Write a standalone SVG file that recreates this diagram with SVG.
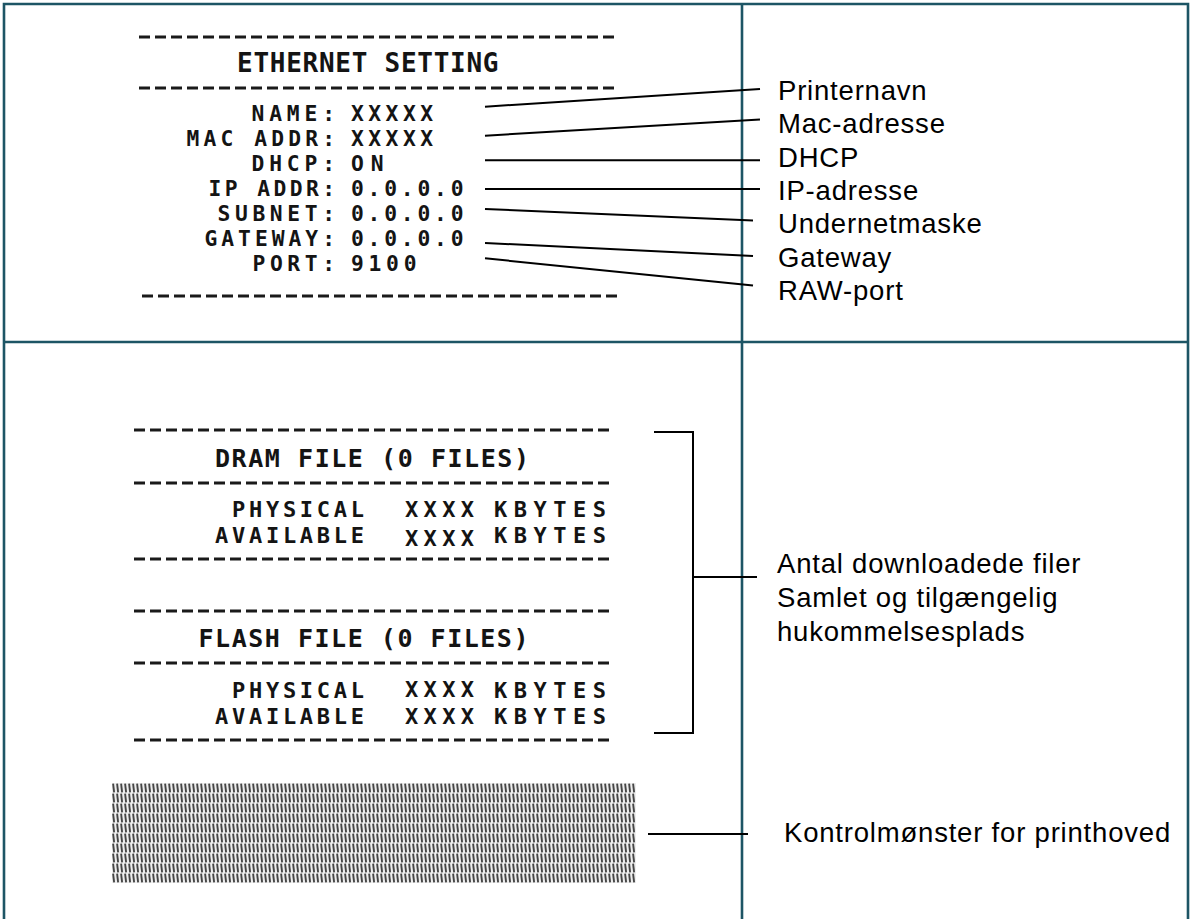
<svg xmlns="http://www.w3.org/2000/svg" width="1192" height="919" viewBox="0 0 1192 919">
<defs>
<style>
.frame{stroke:#1d5565;stroke-width:2.6;fill:none}
.pr{font-family:'DejaVu Sans Mono','Liberation Mono',monospace;font-weight:bold;fill:#141414;font-size:21.3px}
.pb{font-size:22px}
.ttl{font-size:26px}
.dash{stroke:#1a1a1a;stroke-width:3;stroke-dasharray:11 5;fill:none}
.lbl{font-family:'Liberation Sans',Arial,sans-serif;font-size:27.5px;letter-spacing:0.8px;fill:#000}
.ld{stroke:#000;stroke-width:2;fill:none}
</style>
<pattern id="hatch" x="112" y="783" width="4" height="10" patternUnits="userSpaceOnUse">
<rect width="4" height="10" fill="#eeeeee"/>
<line x1="1.1" y1="0.6" x2="2.1" y2="9.4" stroke="#454545" stroke-width="1.9"/>
</pattern>
</defs>
<rect width="1192" height="919" fill="#fff"/>
<g id="frame">
<path class="frame" d="M4,919 V4 H1188 V919"/>
<line class="frame" x1="4" y1="342" x2="1188" y2="342"/>
<line class="frame" x1="742" y1="4" x2="742" y2="919"/>
</g>
<g id="ethernet-printout">
<line class="dash" x1="139" y1="37" x2="614" y2="37"/>
<text class="pr ttl" x="237" y="71.7" textLength="261.5" lengthAdjust="spacing">ETHERNET SETTING</text>
<line class="dash" x1="139" y1="88" x2="614" y2="88"/>
<text class="pr" x="251.5" y="121" textLength="83.5" lengthAdjust="spacing">NAME:</text>
<text class="pr" x="186.5" y="146" textLength="148.5" lengthAdjust="spacing">MAC ADDR:</text>
<text class="pr" x="251.5" y="171" textLength="83.5" lengthAdjust="spacing">DHCP:</text>
<text class="pr" x="208.5" y="196" textLength="126.5" lengthAdjust="spacing">IP ADDR:</text>
<text class="pr" x="217.5" y="221" textLength="117.5" lengthAdjust="spacing">SUBNET:</text>
<text class="pr" x="204.5" y="246" textLength="130.5" lengthAdjust="spacing">GATEWAY:</text>
<text class="pr" x="252.5" y="271" textLength="82.5" lengthAdjust="spacing">PORT:</text>
<text class="pr" x="351" y="121" textLength="82" lengthAdjust="spacing">XXXXX</text>
<text class="pr" x="351" y="146" textLength="82" lengthAdjust="spacing">XXXXX</text>
<text class="pr" x="351" y="171" textLength="32.5" lengthAdjust="spacing">ON</text>
<text class="pr" x="351" y="196" textLength="112.5" lengthAdjust="spacing">0.0.0.0</text>
<text class="pr" x="351" y="221" textLength="112.5" lengthAdjust="spacing">0.0.0.0</text>
<text class="pr" x="351" y="246" textLength="112.5" lengthAdjust="spacing">0.0.0.0</text>
<text class="pr" x="351" y="271" textLength="65.5" lengthAdjust="spacing">9100</text>
<line class="dash" x1="142" y1="296" x2="617" y2="296"/>
</g>
<g id="file-printout">
<line class="dash" x1="134" y1="430" x2="609" y2="430"/>
<text class="pr" style="font-size:25px" x="215" y="466.7" textLength="314" lengthAdjust="spacing">DRAM FILE (0 FILES)</text>
<line class="dash" x1="134" y1="483" x2="609" y2="483"/>
<text class="pr pb" x="232" y="516.7" textLength="132" lengthAdjust="spacing">PHYSICAL</text>
<text class="pr pb" x="405" y="516.7" textLength="69" lengthAdjust="spacing">XXXX</text>
<text class="pr pb" x="494" y="516.7" textLength="112" lengthAdjust="spacing">KBYTES</text>
<text class="pr pb" x="215" y="543.3" textLength="149" lengthAdjust="spacing">AVAILABLE</text>
<text class="pr pb" x="405" y="546" textLength="69" lengthAdjust="spacing">XXXX</text>
<text class="pr pb" x="494" y="543.3" textLength="112" lengthAdjust="spacing">KBYTES</text>
<line class="dash" x1="134" y1="559" x2="609" y2="559"/>
<line class="dash" x1="134" y1="611" x2="609" y2="611"/>
<text class="pr" style="font-size:25px" x="198.5" y="646.7" textLength="330" lengthAdjust="spacing">FLASH FILE (0 FILES)</text>
<line class="dash" x1="134" y1="663" x2="609" y2="663"/>
<text class="pr pb" x="232" y="698.3" textLength="132" lengthAdjust="spacing">PHYSICAL</text>
<text class="pr pb" x="405" y="696.7" textLength="69" lengthAdjust="spacing">XXXX</text>
<text class="pr pb" x="494" y="698.3" textLength="112" lengthAdjust="spacing">KBYTES</text>
<text class="pr pb" x="215" y="724" textLength="149" lengthAdjust="spacing">AVAILABLE</text>
<text class="pr pb" x="405" y="724" textLength="69" lengthAdjust="spacing">XXXX</text>
<text class="pr pb" x="494" y="724" textLength="112" lengthAdjust="spacing">KBYTES</text>
<line class="dash" x1="134" y1="740" x2="609" y2="740"/>
</g>
<g id="printhead-pattern">
<rect x="112" y="783" width="524" height="100" fill="url(#hatch)"/>
</g>
<g id="connectors">
<line class="ld" x1="485" y1="106.7" x2="760" y2="89"/>
<line class="ld" x1="485" y1="135.7" x2="760" y2="119.5"/>
<line class="ld" x1="485" y1="160.3" x2="760" y2="160.3"/>
<line class="ld" x1="485" y1="189" x2="760" y2="189"/>
<line class="ld" x1="485" y1="209" x2="753" y2="220.5"/>
<line class="ld" x1="485" y1="243" x2="753" y2="256"/>
<line class="ld" x1="485" y1="258.3" x2="753" y2="285.5"/>
<path class="ld" d="M654,432 H693 V733 H654"/>
<line class="ld" x1="693" y1="577" x2="757" y2="577"/>
<line class="ld" x1="648" y1="834" x2="748" y2="834"/>
</g>
<g id="labels-top">
<text class="lbl" x="778" y="100">Printernavn</text>
<text class="lbl" x="778" y="133.3">Mac-adresse</text>
<text class="lbl" x="778" y="166.6">DHCP</text>
<text class="lbl" x="778" y="199.9">IP-adresse</text>
<text class="lbl" x="778" y="233.2">Undernetmaske</text>
<text class="lbl" x="778" y="266.5">Gateway</text>
<text class="lbl" x="778" y="299.8">RAW-port</text>
</g>
<g id="labels-bottom">
<text class="lbl" x="777" y="573">Antal downloadede filer</text>
<text class="lbl" x="777" y="607">Samlet og tilgængelig</text>
<text class="lbl" x="777" y="641">hukommelsesplads</text>
<text class="lbl" x="784" y="842">Kontrolmønster for printhoved</text>
</g>
</svg>
